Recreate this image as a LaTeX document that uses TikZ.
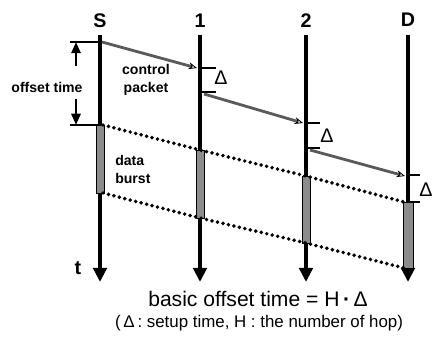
\documentclass[tikz,border=0pt]{standalone}
\usepackage{fontspec}
\setmainfont{Liberation Sans}
\usetikzlibrary{arrows.meta,positioning,calc}
\definecolor{burstGray}{HTML}{8C8C8C}
\definecolor{ctrlGray}{HTML}{5A5A5A}

\begin{document}
\begin{tikzpicture}[x=0.025cm, y=-0.025cm,
  nodelbl/.style={font=\fontsize{14}{16}\selectfont\bfseries, inner sep=0pt},
  life/.style={line width=3.4pt, -{Triangle[length=10pt,width=9.5pt]}},
  burst/.style={draw=black, line width=0.6pt, fill=burstGray},
  ctrl/.style={ctrlGray, line width=2pt, -{Stealth[open,fill=white,color=black,length=6pt,width=5pt,line width=0.6pt]}},
  dotline/.style={line width=2.8pt, dash pattern=on 0pt off 4pt, line cap=round},
  tick/.style={line width=1.8pt},
  oarr/.style={line width=1.8pt, -{Triangle[length=8pt,width=6.5pt]}},
  note/.style={font=\fontsize{10}{12.8}\selectfont\bfseries, inner sep=0pt, align=center},
  dlt/.style={font=\fontsize{14}{16}\selectfont, inner sep=0pt}
]
\useasboundingbox (0,0) rectangle (435,340);
% lifeline x positions, top and end
\def\xS{100} \def\xA{200} \def\xB{306} \def\xD{408}
\def\yTop{35} \def\yEnd{282}
% node labels
\node[nodelbl] (S)   at (\xS,21) {S};
\node[nodelbl] (one) at (\xA,21) {1};
\node[nodelbl] (two) at (\xB,21) {2};
\node[nodelbl] (D)   at (\xD,20) {D};
% lifelines
\coordinate (sT) at (\xS,\yTop); \coordinate (sE) at (\xS,\yEnd);
\coordinate (aT) at (\xA,\yTop); \coordinate (aE) at (\xA,\yEnd);
\coordinate (bT) at (\xB,\yTop); \coordinate (bE) at (\xB,\yEnd);
\coordinate (dT) at (\xD,\yTop); \coordinate (dE) at (\xD,\yEnd);
\draw[life] (sT) -- (sE);
\draw[life] (aT) -- (aE);
\draw[life] (bT) -- (bE);
\draw[life] (dT) -- (dE);
\node[dlt, font=\fontsize{14}{16}\selectfont\bfseries] (t) at (78,268) {t};
% data bursts
\draw[burst] (\xS-4,125) rectangle (\xS+4,193);
\draw[burst] (\xA-4,150) rectangle (\xA+4,218);
\draw[burst] (\xB-4,176) rectangle (\xB+4,243);
\draw[burst] (\xD-5,202) rectangle (\xD+5,268);
\coordinate (s1) at (\xS+3,125); \coordinate (a1) at (\xA,150);
\coordinate (b1) at (\xB,176);   \coordinate (d1) at (\xD-4,202);
\coordinate (s2) at (\xS+3,193); \coordinate (a2) at (\xA,218);
\coordinate (b2) at (\xB,243);   \coordinate (d2) at (\xD-4,268);
\draw[dotline] (s1) -- (a1) -- (b1) -- (d1);
\draw[dotline] (s2) -- (a2) -- (b2) -- (d2);
\node[note, anchor=west, align=left] (burstlbl) at (115,169) {data\\burst};
% setup time ticks
\draw[tick] (\xA,68) -- ++(16,0);  \draw[tick] (\xA,92) -- ++(16,0);
\draw[tick] (\xB,123) -- ++(14,0); \draw[tick] (\xB,148) -- ++(14,0);
\draw[tick] (\xD,175) -- ++(12,0); \draw[tick] (\xD,202) -- ++(12,0);
\node[dlt] (dA) at (221,78) {Δ};
\node[dlt] (dB) at (327,136) {Δ};
\node[dlt] (dD) at (426,190) {Δ};
% control packet
\coordinate (c0) at (\xS+2,42);  \coordinate (c1) at (\xA-3,68);
\coordinate (c2) at (\xA+4,94);  \coordinate (c3) at (\xB-3,123);
\coordinate (c4) at (\xB+4,150); \coordinate (c5) at (\xD-3,176);
\draw[ctrl] (c0) -- (c1);
\draw[ctrl] (c2) -- (c3);
\draw[ctrl] (c4) -- (c5);
\node[note] (ctrllbl) at (146,80) {control\\packet};
% offset time
\draw[tick] (70,42) -- (\xS,42);
\draw[tick] (70,125) -- (\xS,125);
\coordinate (oT) at (76,42); \coordinate (oB) at (76,125);
\node[note] (offs) at (47,87) {offset time};
\draw[oarr] (76,66) -- (oT);
\draw[oarr] (76,99) -- (oB);
% formula
\node[font=\fontsize{15}{18}\selectfont, inner sep=0pt] (basic) at (258,299) {basic offset time = H\,\textbf{·}\,Δ};
\node[font=\fontsize{12}{14}\selectfont, inner sep=0pt] (expl) at (259,323) {(\,Δ\,: setup time, H : the number of hop)};
\end{tikzpicture}
\end{document}
